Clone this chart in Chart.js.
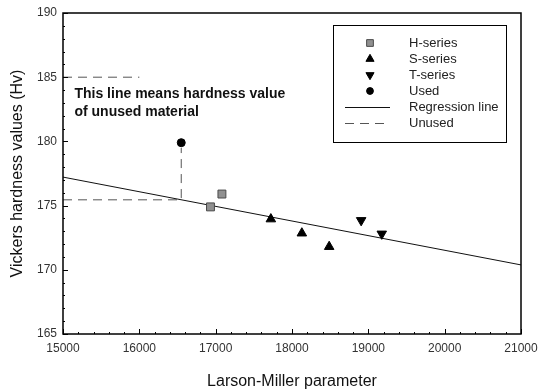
<!DOCTYPE html>
<html>
<head>
<meta charset="utf-8">
<script src="https://cdn.jsdelivr.net/npm/chart.js@4/dist/chart.umd.min.js"></script>
<style>
  html, body { margin: 0; padding: 0; background: #fff; }
  #wrap { width: 538px; height: 391px; }
</style>
</head>
<body>
<div id="wrap"><canvas id="lmChart" width="538" height="391"></canvas></div>
<script>
"use strict";

// data
var hSeriesX = [16932, 17082];
var hSeriesY = [174.9, 175.9];
var sSeriesX = [17723, 18129, 18487];
var sSeriesY = [173.95, 172.85, 171.8];
var tSeriesX = [18906, 19176];
var tSeriesY = [173.85, 172.8];
var usedX = [16549];
var usedY = [179.9];
var regressionX = [15000, 21000];
var regressionY = [177.22, 170.38];
var unusedX = [15000, 16549, 16549];
var unusedY = [175.45, 175.45, 179.5];
var markerLineX = [15000, 16000];
var markerLineY = [185, 185];

var xTicks = [15000, 16000, 17000, 18000, 19000, 20000, 21000];
var yTicks = [165, 170, 175, 180, 185, 190];
var noteLines = ["This line means hardness value", "of unused material"];

var FONT = "'Liberation Sans', Arial, sans-serif";

function pts(xs, ys) {
    var out = [];
    for (var i = 0; i < xs.length; i++) {
        out.push({x: xs[i], y: ys[i]});
    }
    return out;
}

// frame + inward ticks like the original plot
var framePlugin = {
    id: "frame",
    afterDatasetsDraw: function(chart) {
        var ctx = chart.ctx, a = chart.chartArea;
        var xs = chart.scales.x, ys = chart.scales.y;
        ctx.save();
        ctx.strokeStyle = "#000";
        ctx.lineWidth = 1;
        var v, px;
        for (v = 15000; v <= 21000; v += 200) {
            px = Math.round(xs.getPixelForValue(v)) + 0.5;
            var len = (v % 1000 === 0) ? 5 : 2;
            ctx.beginPath();
            ctx.moveTo(px, a.bottom);
            ctx.lineTo(px, a.bottom - len);
            ctx.stroke();
        }
        for (v = 165; v <= 190; v += 1) {
            px = Math.round(ys.getPixelForValue(v)) + 0.5;
            var ylen = (v % 5 === 0) ? 5 : 2;
            ctx.beginPath();
            ctx.moveTo(a.left, px);
            ctx.lineTo(a.left + ylen, px);
            ctx.stroke();
        }
        ctx.lineWidth = 1.5;
        ctx.strokeRect(a.left, a.top, a.right - a.left, a.bottom - a.top);
        ctx.restore();
    }
};

// note text next to the 185 dashed line
var notePlugin = {
    id: "note",
    afterDatasetsDraw: function(chart) {
        var ctx = chart.ctx;
        var x = chart.scales.x.getPixelForValue(15150);
        var y = chart.scales.y.getPixelForValue(183.4);
        ctx.save();
        ctx.fillStyle = "#111";
        ctx.font = "bold 14px " + FONT;
        ctx.textBaseline = "alphabetic";
        ctx.textAlign = "left";
        for (var i = 0; i < noteLines.length; i++) {
            ctx.fillText(noteLines[i], x, y + i * 18);
        }
        ctx.restore();
    }
};

// boxed legend inside the plot area
var legendPlugin = {
    id: "boxLegend",
    afterDraw: function(chart) {
        var ctx = chart.ctx, a = chart.chartArea;
        var left = a.left + 270, top = a.top + 12, w = 173, h = 117;
        ctx.save();
        ctx.fillStyle = "#fff";
        ctx.fillRect(left, top, w, h);
        ctx.strokeStyle = "#000";
        ctx.lineWidth = 1;
        ctx.strokeRect(left + 0.5, top + 0.5, w, h);
        var row = 0;
        chart.data.datasets.forEach(function(ds) {
            if (ds.noLegend) return;
            var cy = top + 18 + row * 16;
            var cx = left + 37;
            if (ds.showLine) {
                ctx.strokeStyle = ds.borderColor;
                ctx.lineWidth = ds.borderWidth;
                ctx.setLineDash(ds.borderDash || []);
                ctx.beginPath();
                ctx.moveTo(left + 12, cy + 0.5);
                ctx.lineTo(left + 57, cy + 0.5);
                ctx.stroke();
                ctx.setLineDash([]);
            } else {
                ctx.fillStyle = ds.pointBackgroundColor;
                ctx.strokeStyle = ds.pointBorderColor;
                ctx.lineWidth = 1;
                Chart.helpers.drawPoint(ctx, {
                    pointStyle: ds.pointStyle,
                    rotation: ds.pointRotation || 0,
                    radius: ds.pointRadius * 0.85,
                    borderWidth: 1
                }, cx, cy);
            }
            ctx.fillStyle = "#222";
            ctx.font = "13px " + FONT;
            ctx.textBaseline = "middle";
            ctx.textAlign = "left";
            ctx.fillText(ds.label, left + 76, cy);
            row++;
        });
        ctx.restore();
    }
};

function markerSet(label, xs, ys, style, r, fill, border, rot) {
    return {
        label: label,
        data: pts(xs, ys),
        showLine: false,
        pointStyle: style,
        pointRadius: r,
        pointRotation: rot || 0,
        pointBackgroundColor: fill,
        pointBorderColor: border,
        pointBorderWidth: 1,
        order: 0
    };
}

function lineSet(label, xs, ys, color, dash, hide) {
    return {
        label: label,
        data: pts(xs, ys),
        showLine: true,
        borderColor: color,
        borderWidth: 1,
        borderDash: dash,
        pointRadius: 0,
        fill: false,
        noLegend: hide,
        order: 5
    };
}

var datos = {
    type: "scatter",
    data: {
        datasets: [
            markerSet("H-series", hSeriesX, hSeriesY, "rect", 5.6, "#909090", "#4a4a4a"),
            markerSet("S-series", sSeriesX, sSeriesY, "triangle", 5.5, "#000", "#000"),
            markerSet("T-series", tSeriesX, tSeriesY, "triangle", 5.5, "#000", "#000", 180),
            markerSet("Used", usedX, usedY, "circle", 4, "#000", "#000"),
            lineSet("Regression line", regressionX, regressionY, "#111", [], false),
            lineSet("Unused", unusedX, unusedY, "#555", [9, 6], false),
            lineSet("Unused (note)", markerLineX, markerLineY, "#555", [9, 6], true)
        ]
    },
    options: {
        responsive: false,
        animation: false,
        devicePixelRatio: 1,
        layout: { padding: { top: 13, right: 17, left: 0, bottom: 0 } },
        plugins: {
            legend: { display: false },
            tooltip: { enabled: false }
        },
        scales: {
            x: {
                type: "linear",
                min: 15000,
                max: 21000,
                afterFit: function(s) {
                    s.height = 57;
                    s.paddingLeft = 0;
                    s.paddingRight = 0;
                },
                afterBuildTicks: function(s) {
                    s.ticks = xTicks.map(function(v) { return {value: v}; });
                },
                grid: { display: false, drawTicks: false },
                border: { display: false },
                ticks: {
                    padding: 7,
                    color: "#333",
                    font: { family: FONT, size: 12 },
                    maxRotation: 0,
                    callback: function(v) { return String(v); }
                },
                title: {
                    display: true,
                    text: "Larson-Miller parameter",
                    color: "#111",
                    font: { family: FONT, size: 16 },
                    padding: { top: 5, bottom: 0 }
                }
            },
            y: {
                type: "linear",
                min: 165,
                max: 190,
                afterFit: function(s) {
                    s.width = 63;
                    s.paddingTop = 0;
                    s.paddingBottom = 0;
                },
                afterBuildTicks: function(s) {
                    s.ticks = yTicks.map(function(v) { return {value: v}; });
                },
                grid: { display: false, drawTicks: false },
                border: { display: false },
                ticks: {
                    padding: 6,
                    color: "#333",
                    font: { family: FONT, size: 12 }
                },
                title: {
                    display: true,
                    text: "Vickers hardness values (Hv)",
                    color: "#111",
                    font: { family: FONT, size: 16 },
                    padding: { top: 8, bottom: 0 }
                }
            }
        }
    },
    plugins: [framePlugin, notePlugin, legendPlugin]
};

var popCanvas = document.getElementById("lmChart").getContext("2d");
window.lmChart = new Chart(popCanvas, datos);
</script>
</body>
</html>
